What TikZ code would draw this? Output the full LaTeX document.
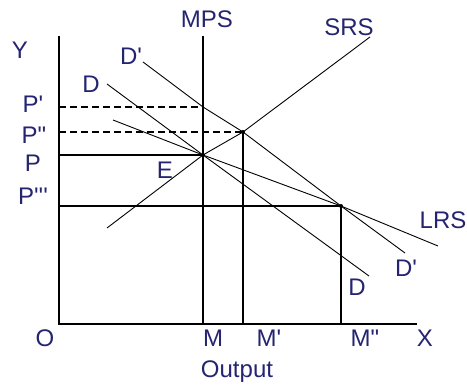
\documentclass[tikz,border=0pt]{standalone}
\usepackage{fontspec}
\setmainfont{Liberation Sans}
\usepackage{tikz}
\definecolor{lblnavy}{RGB}{36,36,112}
\newcommand{\sq}{\textquotesingle}
\newcommand{\dq}{\textquotedbl}
\tikzset{
  axisline/.style={line width=1.5pt, black},
  guide/.style={line width=1.4pt, black},
  guidedash/.style={line width=1.4pt, black, dash pattern=on 7pt off 4pt},
  schedule/.style={line width=0.9pt, black},
  lbl/.style={font=\fontsize{24}{24}\selectfont, text=lblnavy, inner sep=0pt},
}

\begin{document}
\begin{tikzpicture}[x=1pt,y=-1pt]
  \useasboundingbox (0,0) rectangle (467,385);

  % axes and market points
  \coordinate (O) at (59,324);
  \coordinate (Ytop) at (59,36);
  \coordinate (Xend) at (417,324);
  \coordinate (mpsTop) at (203,36);
  \coordinate (M) at (203,324);
  \coordinate (E) at (203,155);
  \coordinate (Ppr) at (203,107);
  \coordinate (F) at (243,132);
  \coordinate (G) at (341,206);

  % ends of the schedules
  \coordinate (srsA) at (107,228);
  \coordinate (srsB) at (370,37);
  \coordinate (dA) at (107,84);
  \coordinate (dB) at (369,276);
  \coordinate (dpA) at (143,62);
  \coordinate (dpB) at (405,253);
  \coordinate (lrsA) at (113,120);
  \coordinate (lrsB) at (438,246);

  \draw[axisline] (Ytop) -- (O) -- (Xend);
  \draw[guide] (mpsTop) -- (M);

  % price levels
  \draw[guidedash] (O |- Ppr) -- (Ppr);
  \draw[guidedash] (O |- F) -- (F);
  \draw[guide] (O |- E) -- (E);
  \draw[guide] (O |- G) -- (G);
  \draw[guide] (F) -- (F |- O);
  \draw[guide] (G) -- (G |- O);

  % supply and demand
  \draw[schedule] (srsA) -- (E) -- (F) -- (srsB);
  \draw[schedule] (dA) -- (E) -- (dB);
  \draw[schedule] (dpA) -- (Ppr) -- (F) -- (G) -- (dpB);
  \draw[schedule] (lrsA) -- (E) -- (G) -- (lrsB);
  \foreach \p in {E,F,G} \fill (\p) circle (2pt);

  % labels
  \node[lbl] (lY) at (20,50) {Y};
  \node[lbl] (lMPS) at (207,19) {MPS};
  \node[lbl] (lSRS) at (349,27) {SRS};
  \node[lbl] (lDpTop) at (131,56) {D\sq};
  \node[lbl] (lDTop) at (91,84) {D};
  \node[lbl] (lPp) at (33,104) {P\sq};
  \node[lbl] (lPpp) at (34,135) {P\dq};
  \node[lbl] (lP) at (33,163) {P};
  \node[lbl] (lPppp) at (33,196) {P\sq\sq\sq};
  \node[lbl] (lE) at (165,170) {E};
  \node[lbl] (lLRS) at (443,220) {LRS};
  \node[lbl] (lDpLow) at (406,268) {D\sq};
  \node[lbl] (lDLow) at (357,287) {D};
  \node[lbl] (lO) at (45,338) {O};
  \node[lbl] (lM) at (213,338) {M};
  \node[lbl] (lMp) at (269,338) {M\sq};
  \node[lbl] (lMpp) at (365,338) {M\dq};
  \node[lbl] (lX) at (425,338) {X};
  \node[lbl] (lOutput) at (237,372) {Output};
\end{tikzpicture}
\end{document}
